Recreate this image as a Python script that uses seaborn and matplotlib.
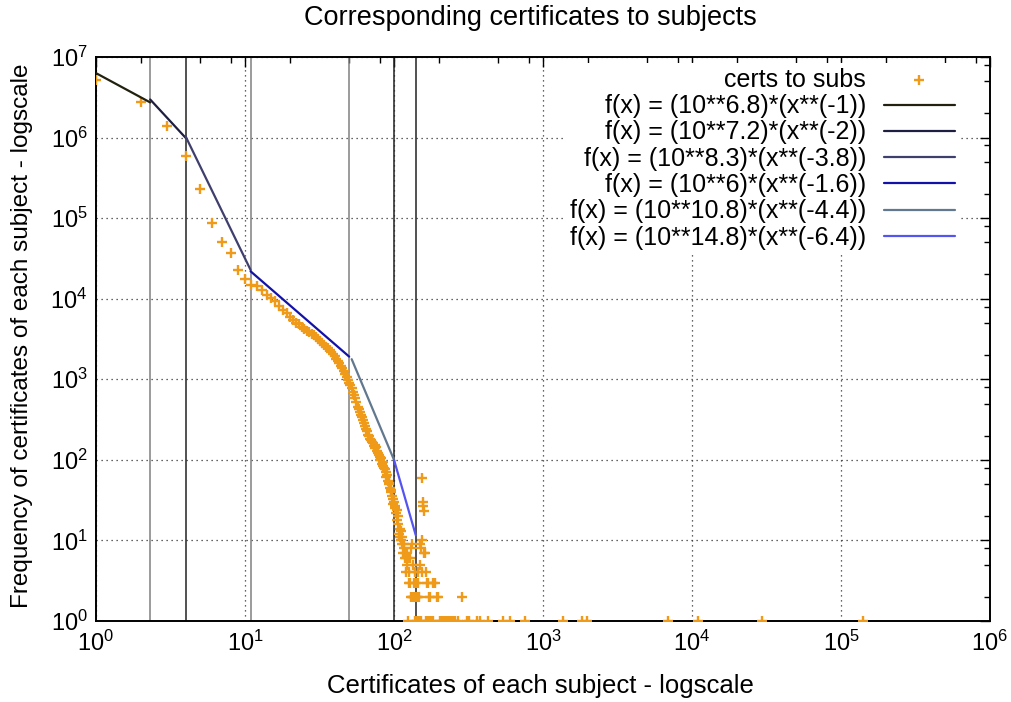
import numpy as np
import pandas as pd
import matplotlib
matplotlib.use("Agg")
import matplotlib.pyplot as plt
import seaborn as sns
from matplotlib.ticker import FixedLocator, NullFormatter, LogFormatterSciNotation

# ---------------- data ----------------
# dense part: certificates per subject (x) vs number of subjects (y)
dense_x = list(range(1, 111))
dense_y = [5.2e6, 2.8e6, 1.39e6, 5.9e5, 2.28e5, 8.7e4, 5.1e4, 3.7e4, 2.3e4, 1.78e4,
           1.5e4, 1.45e4, 1.3e4, 1.12e4, 1.01e4, 9.3e3, 8.2e3, 7.2e3, 6.6e3, 6.0e3,
           5.4e3, 5.0e3, 4.8e3, 4.5e3, 4.2e3, 4.0e3, 3.85e3, 3.7e3, 3.5e3, 3.35e3,
           3.2e3, 3.0e3, 2.85e3, 2.7e3, 2.55e3, 2.45e3, 2.3e3, 2.2e3, 2.05e3, 1.95e3,
           1.8e3, 1.7e3, 1.6e3, 1.45e3, 1.38e3, 1.25e3, 1.15e3, 1.08e3, 980, 900,
           840, 780, 700, 640, 590, 520, 450, 430, 390, 360,
           340, 310, 290, 260, 245, 225, 205, 200, 180, 175,
           165, 160, 150, 155, 140, 145, 130, 120, 115, 110,
           100, 105, 90, 95, 85, 80, 78, 70, 62, 65,
           55, 50, 52, 45, 40, 42, 36, 33, 28, 30,
           25, 27, 22, 24, 18, 20, 16, 12, 14, 11]

# sparse tail
tail_x = [111, 112, 113, 114, 115, 116, 117, 118, 119, 120, 121, 122, 123, 124, 125,
          126, 127, 128, 129, 130, 131, 132, 133, 134, 135, 136, 137, 138, 139, 140,
          141, 142, 143, 144, 145, 146, 147, 148, 149, 150, 151, 152, 153, 154, 155,
          156, 157, 158, 160, 161, 163, 165, 166, 168, 170, 171, 173, 175, 177, 183,
          184, 188, 193, 198, 204, 208, 213, 218, 223, 228, 234, 240, 245, 250, 256,
          270, 284, 308, 319, 359, 378, 430, 542, 601, 757, 1368, 1818, 1964, 6935,
          11020, 29370, 140000]
tail_y = [13, 10, 9, 11, 7, 8, 9, 6, 7, 6, 4, 7, 5, 6, 1,
          3, 4, 6, 3, 2, 8, 9, 2, 5, 2, 3, 2, 4, 1, 3,
          2, 1, 2, 3, 4, 2, 1, 2, 9, 5, 1, 8, 10, 4, 59,
          30, 27, 23, 7, 7, 1, 4, 3, 1, 3, 2, 1, 2, 1, 3,
          1, 3, 2, 2, 1, 1, 1, 1, 1, 1, 1, 1, 1, 1, 1,
          1, 2, 1, 1, 1, 1, 1, 1, 1, 1, 1, 1, 1, 1,
          1, 1, 1]

# fitted power laws f(x) = 10**a * x**b over sub-ranges
fit_a = [6.8, 7.2, 8.3, 6, 10.8, 14.8]
fit_b = [-1, -2, -3.8, -1.6, -4.4, -6.4]
fit_lo = [1, 2.31, 4, 10.9, 52, 100]
fit_hi = [2.31, 4, 10.9, 50, 100, 140]
fit_labels = ["f(x) = (10**6.8)*(x**(-1))", "f(x) = (10**7.2)*(x**(-2))",
              "f(x) = (10**8.3)*(x**(-3.8))", "f(x) = (10**6)*(x**(-1.6))",
              "f(x) = (10**10.8)*(x**(-4.4))", "f(x) = (10**14.8)*(x**(-6.4))"]
fit_colors = ["#22200e", "#1e1e40", "#3f3f6e", "#1212a8", "#62788f", "#5454f2"]

# vertical boundary markers
vline_x = [2.31, 4, 10.9, 50, 100, 140]
vline_colors = ["#808080", "#222222", "#808080", "#808080", "#222222", "#222222"]

# axis ticks
x_major = [1e0, 1e1, 1e2, 1e3, 1e4, 1e5, 1e6]
y_major = [1e0, 1e1, 1e2, 1e3, 1e4, 1e5, 1e6, 1e7]
minor_subs = [2, 5, 8]

# ---------------- style ----------------
sns.set_theme(style="white")
plt.rcParams['font.family'] = ['Liberation Sans', 'DejaVu Sans']
plt.rcParams['mathtext.default'] = 'regular'
plt.rcParams['text.color'] = 'black'
plt.rcParams['axes.labelcolor'] = 'black'

fig = plt.figure(figsize=(10.11, 7.02), dpi=100)
L, R, T, B = 96, 990, 57, 621
ax = fig.add_axes([L / 1011, 1 - B / 702, (R - L) / 1011, (B - T) / 702])

df = pd.DataFrame({"x": dense_x + tail_x, "y": dense_y + tail_y})
sns.scatterplot(data=df, x="x", y="y", marker="+", s=60, linewidth=1.7,
                color="#f09a1a", ax=ax, label="certs to subs", zorder=3)

for a, b, lo, hi, lab, c in zip(fit_a, fit_b, fit_lo, fit_hi, fit_labels, fit_colors):
    xs = np.geomspace(lo, hi, 50)
    fd = pd.DataFrame({"x": xs, "y": (10 ** a) * xs ** b})
    sns.lineplot(data=fd, x="x", y="y", color=c, linewidth=1.6, ax=ax, label=lab,
                 zorder=4)

for vx, vc in zip(vline_x, vline_colors):
    ax.axvline(vx, color=vc, linewidth=1.1, zorder=2)

ax.set_xscale("log")
ax.set_yscale("log")
ax.set_xlim(x_major[0], x_major[-1])
ax.set_ylim(y_major[0], y_major[-1])

for axis, majors in ((ax.xaxis, x_major), (ax.yaxis, y_major)):
    axis.set_major_locator(FixedLocator(majors))
    axis.set_major_formatter(LogFormatterSciNotation())
    axis.set_minor_locator(FixedLocator([m * v for v in majors[:-1] for m in minor_subs]))
    axis.set_minor_formatter(NullFormatter())

ax.tick_params(which="both", direction="in", top=True, right=True, colors="black",
               width=1.0)
ax.tick_params(which="major", length=7, labelsize=17)
ax.tick_params(which="minor", length=4)
ax.tick_params(axis="x", which="major", pad=7)
ax.tick_params(axis="y", which="major", pad=6)

ax.grid(True, which="major", color="#333333", linestyle=(0, (1, 3)), linewidth=0.9)
for sp in ax.spines.values():
    sp.set_color("black")
    sp.set_linewidth(1.4)

ax.set_xlabel("")
ax.set_ylabel("")
fig.text(530 / 1011, 1 - 18 / 702, "Corresponding certificates to subjects",
         ha="center", va="center", fontsize=19.5, color="black")
fig.text(540 / 1011, 1 - 686 / 702, "Certificates of each subject - logscale",
         ha="center", va="center", fontsize=18.5, color="black")
fig.text(22 / 1011, 1 - 336 / 702, "Frequency of certificates of each subject - logscale",
         ha="center", va="center", rotation=90, fontsize=17.5, color="black")

leg = ax.legend(loc="upper right", bbox_to_anchor=(960 / 1011, 1 - 63 / 702),
                bbox_transform=fig.transFigure, markerfirst=False, frameon=True,
                fontsize=18, handlelength=2.85, handletextpad=0.7, labelspacing=0.09,
                borderpad=0.2, borderaxespad=0)
leg.get_frame().set_edgecolor("none")
leg.get_frame().set_facecolor("white")
leg.get_frame().set_alpha(1)
leg.set_zorder(5)
for t in leg.get_texts():
    t.set_color("black")

fig.savefig("out.png", dpi=100)
